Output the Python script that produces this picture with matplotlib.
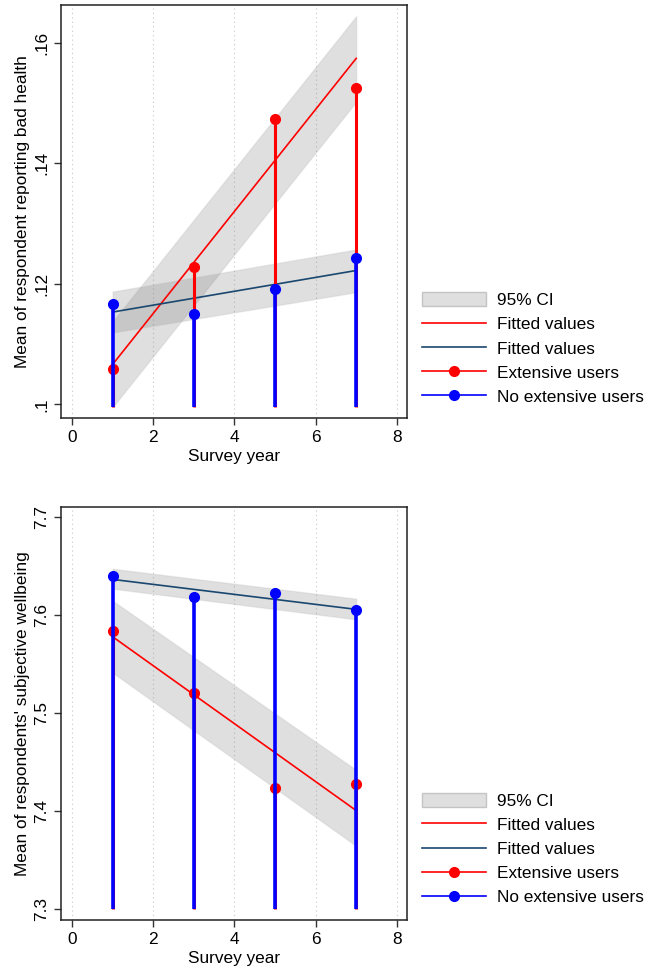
import matplotlib
matplotlib.use("Agg")
import matplotlib.pyplot as plt
from matplotlib.lines import Line2D
from matplotlib.patches import Patch
from matplotlib.legend_handler import HandlerLine2D

plt.rcParams["font.family"] = ["Liberation Sans", "DejaVu Sans"]

# survey years
years = [1, 3, 5, 7]
fit_x = [1, 7]

# top panel: bad health
health_ext = [0.1058, 0.1227, 0.1473, 0.1525]
health_noext = [0.1166, 0.1149, 0.1192, 0.1242]
health_fit_ext = [0.1066, 0.1574]
health_ci_ext_lo = [0.0995, 0.1502]
health_ci_ext_hi = [0.1137, 0.1644]
health_fit_noext = [0.1153, 0.1222]
health_ci_noext_lo = [0.1119, 0.1186]
health_ci_noext_hi = [0.1187, 0.1257]
health_base = 0.0995
health_yticks = [0.10, 0.12, 0.14, 0.16]
health_ylabels = [".1", ".12", ".14", ".16"]

# bottom panel: wellbeing
well_ext = [7.5837, 7.5211, 7.4241, 7.4276]
well_noext = [7.6401, 7.6184, 7.6224, 7.6054]
well_fit_ext = [7.5782, 7.4007]
well_ci_ext_lo = [7.5415, 7.3646]
well_ci_ext_hi = [7.6150, 7.4422]
well_fit_noext = [7.6367, 7.6061]
well_ci_noext_lo = [7.6272, 7.5959]
well_ci_noext_hi = [7.6476, 7.6170]
well_base = 7.3
well_yticks = [7.3, 7.4, 7.5, 7.6, 7.7]
well_ylabels = ["7.3", "7.4", "7.5", "7.6", "7.7"]

RED = "#ff0000"
BLUE = "#0000ff"
NAVY = "#1a476f"
FS = 12.4


class EndMarkerHandler(HandlerLine2D):
    # put the marker at the right end of the legend line (Stata style)
    def create_artists(self, legend, orig_handle, xdescent, ydescent,
                       width, height, fontsize, trans):
        arts = super().create_artists(legend, orig_handle, xdescent, ydescent,
                                      width, height, fontsize, trans)
        for a in arts:
            if a.get_linestyle() in ("None", "none", ""):
                a.set_xdata([-xdescent + width])
        return arts


def panel(ax, ext, noext, fit_ext, ci_ext_lo, ci_ext_hi, fit_noext,
          ci_noext_lo, ci_noext_hi, base, yticks, ylabels, ylim, ylabel):
    ax.fill_between(fit_x, ci_ext_lo, ci_ext_hi, facecolor="gray", alpha=0.25,
                    edgecolor="#b8b8b8", lw=1, zorder=2)
    ax.plot(fit_x, fit_ext, color=RED, lw=1.2, zorder=3)
    ax.fill_between(fit_x, ci_noext_lo, ci_noext_hi, facecolor="gray", alpha=0.25,
                    edgecolor="#b8b8b8", lw=1, zorder=2)
    ax.plot(fit_x, fit_noext, color=NAVY, lw=1.2, zorder=3)

    ax.vlines(years, base, ext, color=RED, lw=2.2, zorder=4)
    ax.plot(years, ext, "o", color=RED, ms=7, zorder=4)
    ax.vlines(years, base, noext, color=BLUE, lw=2.6, zorder=5)
    ax.plot(years, noext, "o", color=BLUE, ms=7, zorder=5)

    ax.set_xlim(-0.27, 8.25)
    ax.set_ylim(*ylim)
    ax.set_xticks([0, 2, 4, 6, 8])
    ax.set_yticks(yticks)
    ax.set_yticklabels(ylabels, rotation=90, va="center")
    ax.tick_params(labelsize=FS, length=5, width=1, color="#333333")
    ax.grid(axis="x", linestyle=(0, (1, 3)), color="#c8c8c8", lw=0.8)
    ax.set_axisbelow(True)
    ax.set_xlabel("Survey year", fontsize=FS, labelpad=3)
    ax.set_ylabel(ylabel, fontsize=FS, labelpad=3)
    for s in ax.spines.values():
        s.set_linewidth(1.1)
        s.set_color("#222222")


fig = plt.figure(figsize=(6.46, 9.72), dpi=100)
ax1 = fig.add_axes([0.0944, 0.570, 0.5356, 0.4249])
ax2 = fig.add_axes([0.0944, 0.0535, 0.5356, 0.4245])

panel(ax1, health_ext, health_noext, health_fit_ext, health_ci_ext_lo,
      health_ci_ext_hi, health_fit_noext, health_ci_noext_lo, health_ci_noext_hi,
      health_base, health_yticks, health_ylabels, (0.09773, 0.16626),
      "Mean of respondent reporting bad health")
panel(ax2, well_ext, well_noext, well_fit_ext, well_ci_ext_lo, well_ci_ext_hi,
      well_fit_noext, well_ci_noext_lo, well_ci_noext_hi, well_base,
      well_yticks, well_ylabels, (7.289, 7.7102),
      "Mean of respondents' subjective wellbeing")

handles = [
    Patch(facecolor="#dfdfdf", edgecolor="#c4c4c4", lw=1),
    Line2D([], [], color=RED, lw=1.2),
    Line2D([], [], color=NAVY, lw=1.2),
    Line2D([], [], color=RED, lw=1.2, marker="o", ms=7),
    Line2D([], [], color=BLUE, lw=1.2, marker="o", ms=7),
]
labels = ["95% CI", "Fitted values", "Fitted values", "Extensive users",
          "No extensive users"]
hmap = {handles[3]: EndMarkerHandler(numpoints=1),
        handles[4]: EndMarkerHandler(numpoints=1)}

for yc in (1 - 348.5 / 972, 1 - 849 / 972):
    fig.legend(handles, labels, loc="center left", bbox_to_anchor=(422 / 646, yc),
               frameon=False, fontsize=FS, handlelength=3.7, handleheight=0.9,
               handletextpad=0.65, labelspacing=0.47, borderpad=0,
               borderaxespad=0, handler_map=hmap)

fig.savefig("out.png", dpi=100)
